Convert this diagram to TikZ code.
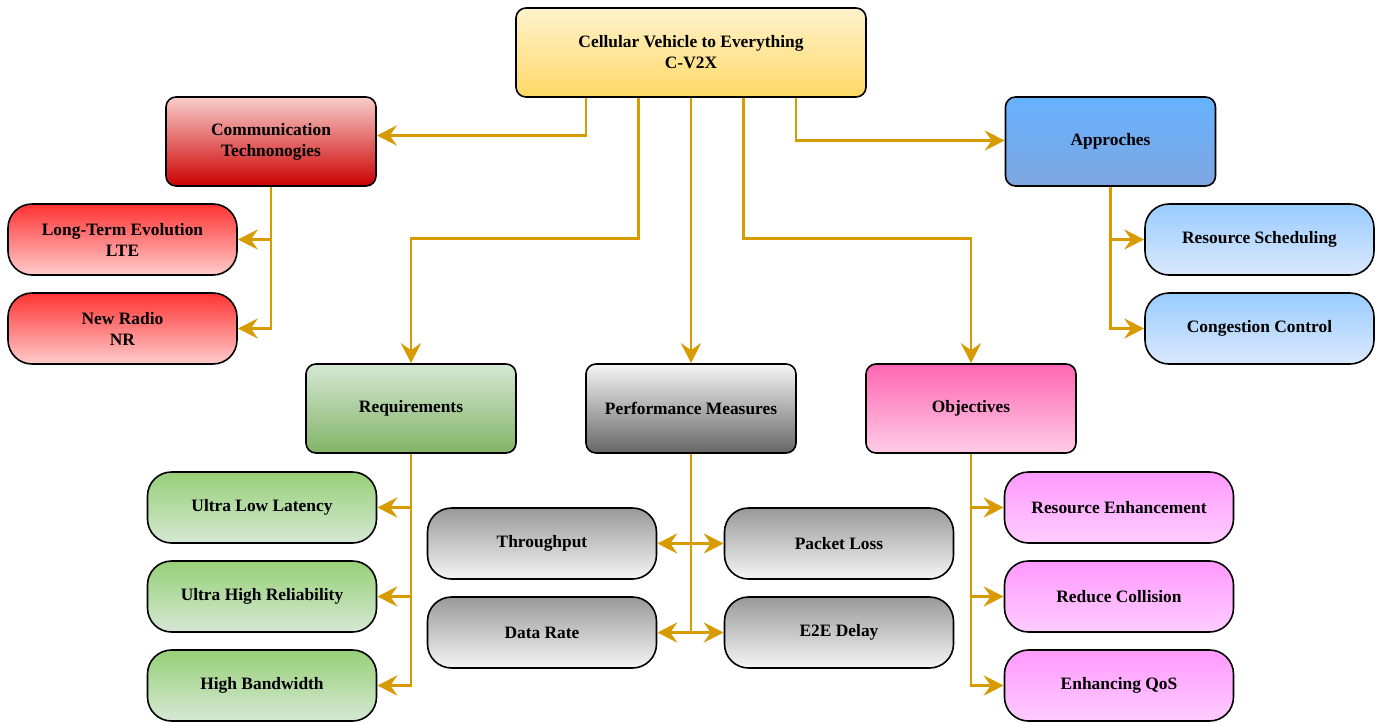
\documentclass[tikz,border=0pt]{standalone}
\usepackage{fontspec}
\setmainfont{Liberation Serif}
\usetikzlibrary{arrows.meta}
\definecolor{gold}{RGB}{215,155,0}
\definecolor{ylwtop}{RGB}{255,242,204}
\definecolor{ylwbot}{RGB}{255,217,102}
\definecolor{redtop}{RGB}{248,206,204}
\definecolor{redbot}{RGB}{204,0,0}
\definecolor{redlf}{RGB}{255,51,51}
\definecolor{redlfb}{RGB}{255,204,204}
\definecolor{blutop}{RGB}{102,178,255}
\definecolor{blubot}{RGB}{126,166,224}
\definecolor{blulf}{RGB}{153,204,255}
\definecolor{blulfb}{RGB}{218,232,252}
\definecolor{grntop}{RGB}{213,232,212}
\definecolor{grnbot}{RGB}{130,179,102}
\definecolor{grnlf}{RGB}{151,208,119}
\definecolor{gratop}{RGB}{245,245,245}
\definecolor{grabot}{RGB}{102,102,102}
\definecolor{gralf}{RGB}{153,153,153}
\definecolor{pnktop}{RGB}{255,102,179}
\definecolor{pnkbot}{RGB}{255,204,230}
\definecolor{pnklf}{RGB}{255,153,255}
\definecolor{pnklfb}{RGB}{255,204,255}
\begin{document}
\begin{tikzpicture}[x=0.5pt,y=-0.5pt,
    every node/.style={font=\fontsize{8.7}{10.5}\selectfont\bfseries,align=center},
    box/.style={draw=black,line width=0.8pt,rounded corners=5pt,
      minimum width=105pt,minimum height=44.5pt},
    leaf/.style={draw=black,line width=0.8pt,rounded corners=12pt,
      minimum width=114.5pt,minimum height=35.5pt},
    link/.style={draw=gold,line width=1.4pt,
      -{Stealth[length=10pt,width=10pt,inset=3.5pt]}}]
  \useasboundingbox (0,0) rectangle (1383,723);

  % root
  \node[box,minimum width=175pt,top color=ylwtop,bottom color=ylwbot] (cv2x) at (691,52.5)
    {Cellular Vehicle to Everything\\C-V2X};

  % second level
  \node[box,top color=redtop,bottom color=redbot] (comm) at (271,141.5) {Communication\\Technonogies};
  \node[box,top color=blutop,bottom color=blubot] (appr) at (1110.5,141.5) {Approches};
  \node[box,top color=grntop,bottom color=grnbot] (req) at (411,408.5) {Requirements};
  \node[box,top color=gratop,bottom color=grabot] (perf) at (691,408.5) {Performance Measures};
  \node[box,top color=pnktop,bottom color=pnkbot] (obj) at (971,408.5) {Objectives};

  % leaves
  \begin{scope}[every node/.append style={leaf}]
    \node[top color=redlf,bottom color=redlfb] (lte) at (122.5,239.5) {Long-Term Evolution\\LTE};
    \node[top color=redlf,bottom color=redlfb] (nr) at (122.5,328.5) {New Radio\\NR};
    \node[top color=blulf,bottom color=blulfb] (rs) at (1259.5,239.5) {Resource Scheduling};
    \node[top color=blulf,bottom color=blulfb] (cc) at (1259.5,328.5) {Congestion Control};
    \node[top color=grnlf,bottom color=grntop] (ull) at (262,507.5) {Ultra Low Latency};
    \node[top color=grnlf,bottom color=grntop] (uhr) at (262,596.5) {Ultra High Reliability};
    \node[top color=grnlf,bottom color=grntop] (hb) at (262,685.5) {High Bandwidth};
    \node[top color=gralf,bottom color=gratop] (thr) at (542,543.5) {Throughput};
    \node[top color=gralf,bottom color=gratop] (pl) at (839,543.5) {Packet Loss};
    \node[top color=gralf,bottom color=gratop] (dr) at (542,632.5) {Data Rate};
    \node[top color=gralf,bottom color=gratop] (e2e) at (839,632.5) {E2E Delay};
    \node[top color=pnklf,bottom color=pnklfb] (re) at (1119,507.5) {Resource Enhancement};
    \node[top color=pnklf,bottom color=pnklfb] (rc) at (1119,596.5) {Reduce Collision};
    \node[top color=pnklf,bottom color=pnklfb] (qos) at (1119,685.5) {Enhancing QoS};
  \end{scope}

  % links from root
  \draw[link] ([xshift=-52.5pt]cv2x.south) |- ([yshift=3pt]comm.east);
  \draw[link] ([xshift=52.5pt]cv2x.south) |- ([yshift=0.5pt]appr.west);
  \draw[link] ([xshift=-26.25pt]cv2x.south) |- ([yshift=62.5pt]req.north) -- (req.north);
  \draw[link] (cv2x.south) -- (perf.north);
  \draw[link] ([xshift=26.25pt]cv2x.south) |- ([yshift=62.5pt]obj.north) -- (obj.north);

  % links to leaves
  \draw[link] (comm.south) |- (lte.east);
  \draw[link] (comm.south) |- (nr.east);
  \draw[link] (appr.south) |- (rs.west);
  \draw[link] (appr.south) |- (cc.west);
  \draw[link] (req.south) |- (ull.east);
  \draw[link] (req.south) |- (uhr.east);
  \draw[link] (req.south) |- (hb.east);
  \draw[link] (perf.south) |- (thr.east);
  \draw[link] (perf.south) |- (pl.west);
  \draw[link] (perf.south) |- (dr.east);
  \draw[link] (perf.south) |- (e2e.west);
  \draw[link] (obj.south) |- (re.west);
  \draw[link] (obj.south) |- (rc.west);
  \draw[link] (obj.south) |- (qos.west);
\end{tikzpicture}
\end{document}
